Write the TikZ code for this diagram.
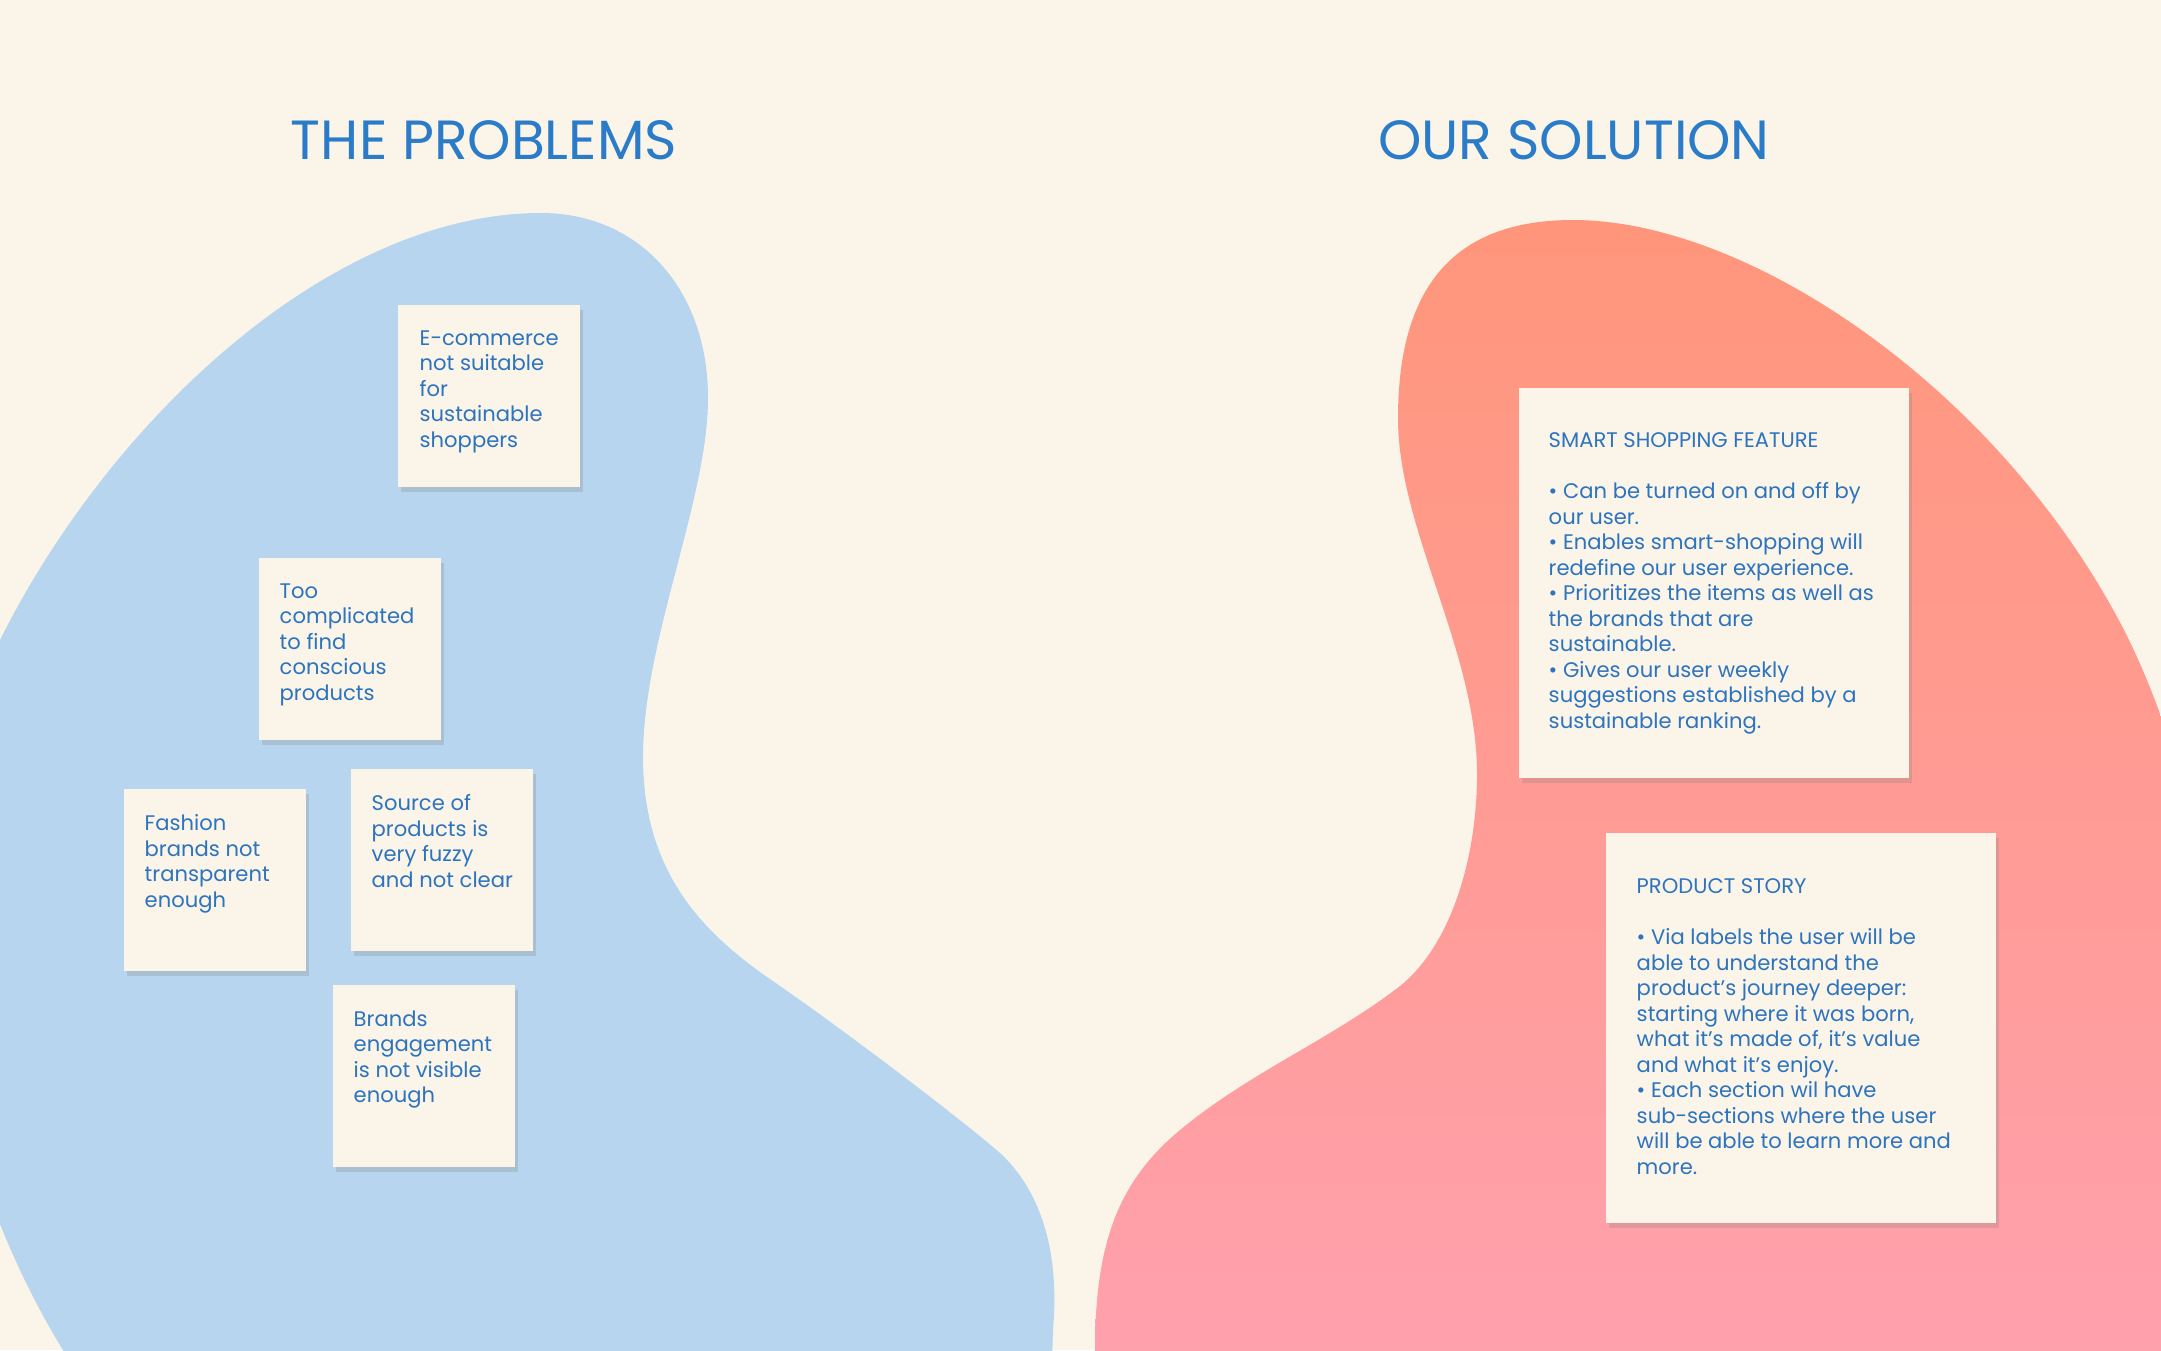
\documentclass[tikz,border=0pt]{standalone}
\usepackage{fontspec}
\setmainfont{Poppins}
\usetikzlibrary{shadows,positioning}

\definecolor{cream}{HTML}{FAF4E9}
\definecolor{skyblob}{HTML}{B7D5EE}
\definecolor{salmon}{HTML}{FF967B}
\definecolor{rosepink}{HTML}{FFA1B0}
\definecolor{ink}{HTML}{2D74BE}
\definecolor{headblue}{HTML}{2A7BC8}

\tikzset{
  note/.style={fill=cream, anchor=north west, inner sep=0pt,
    drop shadow={shadow xshift=1pt, shadow yshift=-1.5pt, opacity=0.25}},
  smallnote/.style={note, minimum width=1.82cm, minimum height=1.82cm},
  bignote/.style={note, minimum width=3.9cm, minimum height=3.9cm},
  notetext/.style={inner sep=0pt, align=left, text=ink,
    font=\fontsize{6}{7.25}\selectfont},
  heading/.style={text=headblue, font=\fontsize{15.7}{19}\selectfont}
}

\begin{document}
\begin{tikzpicture}[x=0.01cm, y=-0.01cm]
  \useasboundingbox (0,0) rectangle (2161,1350);
  \fill[cream] (0,0) rectangle (2161,1350);
  \clip (0,0) rectangle (2161,1350);

  % Problems blob
  \fill[skyblob] (63,1350) .. controls (-60,1150) and (-110,860) .. (0,640)
    .. controls (110,420) and (330,213) .. (541,213)
    .. controls (640,213) and (708,290) .. (708,398)
    .. controls (708,500) and (643,640) .. (643,757)
    .. controls (643,870) and (700,930) .. (767,977)
    .. controls (830,1020) and (950,1110) .. (1000,1153)
    .. controls (1040,1190) and (1060,1250) .. (1053,1330)
    -- (1050,1420) -- (70,1420) -- cycle;

  % Solution blob
  \shade[top color=salmon, bottom color=rosepink] (1095,1350)
    .. controls (1095,1240) and (1120,1180) .. (1180,1130)
    .. controls (1250,1072) and (1330,1040) .. (1400,986)
    .. controls (1450,946) and (1477,860) .. (1477,774)
    .. controls (1477,650) and (1398,530) .. (1398,418)
    .. controls (1398,280) and (1460,220) .. (1573,220)
    .. controls (1750,220) and (2000,390) .. (2124,630)
    .. controls (2200,780) and (2240,1000) .. (2260,1420)
    -- (1095,1420) -- cycle;

  % Headings
  \node[heading] (probhead) at (484,140) {THE PROBLEMS};
  \node[heading] (solhead) at (1574,140) {OUR SOLUTION};

  % Problem notes
  \node[smallnote] (ecom) at (397,304) {};
  \node[notetext, below right=0.26cm and 0.22cm of ecom.north west]
    {E-commerce\\not suitable\\for\\sustainable\\shoppers};

  \node[smallnote] (toocomp) at (258,557) {};
  \node[notetext, below right=0.26cm and 0.21cm of toocomp.north west]
    {Too\\complicated\\to find\\conscious\\products};

  \node[smallnote] (fashion) at (123,788) {};
  \node[notetext, below right=0.26cm and 0.21cm of fashion.north west]
    {Fashion\\brands not\\transparent\\enough};

  \node[smallnote] (source) at (350,768) {};
  \node[notetext, below right=0.26cm and 0.21cm of source.north west]
    {Source of\\products is\\very fuzzy\\and not clear};

  \node[smallnote] (engage) at (332,984) {};
  \node[notetext, below right=0.26cm and 0.21cm of engage.north west]
    {Brands\\engagement\\is not visible\\enough};

  % Solution notes
  \node[bignote] (smart) at (1518,387) {};
  \node[notetext, below right=0.45cm and 0.30cm of smart.north west]
    {SMART SHOPPING FEATURE\\[7.25pt]
     \textbullet{} Can be turned on and off by\\our user.\\
     \textbullet{} Enables smart-shopping will\\redefine our user experience.\\
     \textbullet{} Prioritizes the items as well as\\the brands that are\\sustainable.\\
     \textbullet{} Gives our user weekly\\suggestions established by a\\sustainable ranking.};

  \node[bignote] (story) at (1605,832) {};
  \node[notetext, below right=0.46cm and 0.31cm of story.north west]
    {PRODUCT STORY\\[7.25pt]
     \textbullet{} Via labels the user will be\\able to understand the\\product’s journey deeper:\\
     starting where it was born,\\what it’s made of, it’s value\\and what it’s enjoy.\\
     \textbullet{} Each section wil have\\sub-sections where the user\\will be able to learn more and\\more.};
\end{tikzpicture}
\end{document}
